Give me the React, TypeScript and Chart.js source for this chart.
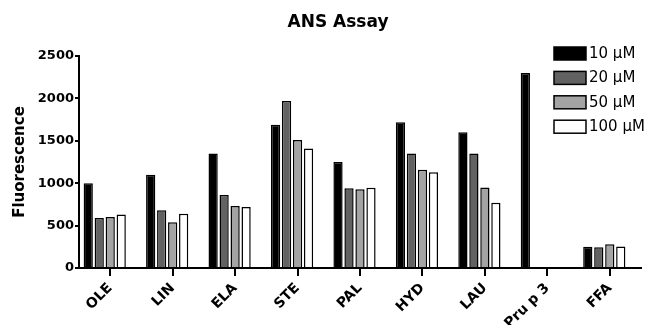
import React, { useEffect, useRef } from "react";
import { Chart, registerables } from "chart.js";

Chart.register(...registerables);

const chartTitle = "ANS Assay";
const yAxisTitle = "Fluorescence";
const categories = ["OLE", "LIN", "ELA", "STE", "PAL", "HYD", "LAU", "Pru p 3", "FFA"];
const seriesLabels = ["10 μM", "20 μM", "50 μM", "100 μM"];
const values10 = [1000, 1100, 1350, 1690, 1250, 1720, 1600, 2300, 250];
const values20 = [590, 680, 860, 1970, 940, 1350, 1350, null, 245];
const values50 = [600, 540, 730, 1510, 930, 1160, 950, null, 280];
const values100 = [630, 640, 720, 1410, 945, 1130, 770, null, 255];
const yTicks = [0, 500, 1000, 1500, 2000, 2500];
const seriesColors = ["#000000", "#626262", "#a4a4a4", "#ffffff"];

const FONT = "'DejaVu Sans', 'Liberation Sans', Arial, sans-serif";

const decorPlugin = {
  id: "decor",
  afterDraw(chart: any) {
    const ctx = chart.ctx;
    ctx.save();
    ctx.fillStyle = "#000";
    ctx.font = `bold 17px ${FONT}`;
    ctx.textAlign = "center";
    ctx.textBaseline = "middle";
    ctx.fillText(chartTitle, 338, 23);
    ctx.font = `15px ${FONT}`;
    ctx.textAlign = "left";
    seriesLabels.forEach((lab, i) => {
      const top = 47 + i * 24.4;
      ctx.fillStyle = seriesColors[i];
      ctx.fillRect(554, top, 32, 13);
      ctx.lineWidth = 1.5;
      ctx.strokeStyle = "#000";
      ctx.strokeRect(554, top, 32, 13);
      ctx.fillStyle = "#000";
      ctx.fillText(lab, 589, top + 7);
    });
    ctx.restore();
  },
};

export default function App() {
  const ref = useRef<HTMLCanvasElement | null>(null);
  useEffect(() => {
    if (!ref.current) return;
    const allSeries = [values10, values20, values50, values100];
    const datasets: any[] = allSeries.map((vals, i) => ({
      label: seriesLabels[i],
      data: vals,
      backgroundColor: seriesColors[i],
      borderColor: "#000",
      borderWidth: 1.5,
      barPercentage: 0.84,
      categoryPercentage: 0.88,
    }));
    datasets.push({
      label: "",
      data: categories.map(() => null),
      backgroundColor: "#fff",
      borderWidth: 0,
      barPercentage: 0.84,
      categoryPercentage: 0.88,
    });
    const chart = new Chart(ref.current, {
      type: "bar",
      data: { labels: categories, datasets },
      options: {
        responsive: false,
        animation: false,
        layout: { padding: { top: 56, right: 8, left: 0, bottom: 0 } },
        plugins: {
          legend: { display: false },
          title: { display: false },
          tooltip: { enabled: false },
        },
        scales: {
          x: {
            type: "category",
            offset: true,
            grid: {
              offset: false,
              drawOnChartArea: false,
              drawTicks: true,
              tickLength: 8,
              color: "#000",
              lineWidth: 2,
            },
            border: { display: true, color: "#000", width: 2 },
            ticks: {
              color: "#000",
              font: { family: FONT, weight: "bold", size: 14 },
              maxRotation: 45,
              minRotation: 45,
              padding: 4,
              autoSkip: false,
            },
            afterFit: (s: any) => {
              s.height = 57;
            },
          },
          y: {
            min: 0,
            max: 2500,
            afterBuildTicks: (s: any) => {
              s.ticks = yTicks.map((v) => ({ value: v }));
            },
            grid: {
              drawOnChartArea: false,
              drawTicks: true,
              tickLength: 4,
              color: "#000",
              lineWidth: 2,
            },
            border: { display: true, color: "#000", width: 2 },
            ticks: {
              color: "#000",
              font: { family: FONT, weight: "bold", size: 13 },
              padding: 1,
              callback: (v: any) => String(v),
            },
            title: {
              display: true,
              text: yAxisTitle,
              color: "#000",
              font: { family: FONT, weight: "bold", size: 15 },
              padding: { top: 11, bottom: 0 },
            },
            afterFit: (s: any) => {
              s.width = 79;
            },
          },
        },
      },
      plugins: [decorPlugin],
    } as any);
    return () => chart.destroy();
  }, []);
  return (
    <div style={{ position: "absolute", left: 0, top: 0, width: 649, height: 325, background: "#fff" }}>
      <canvas ref={ref} width={649} height={325} />
    </div>
  );
}
